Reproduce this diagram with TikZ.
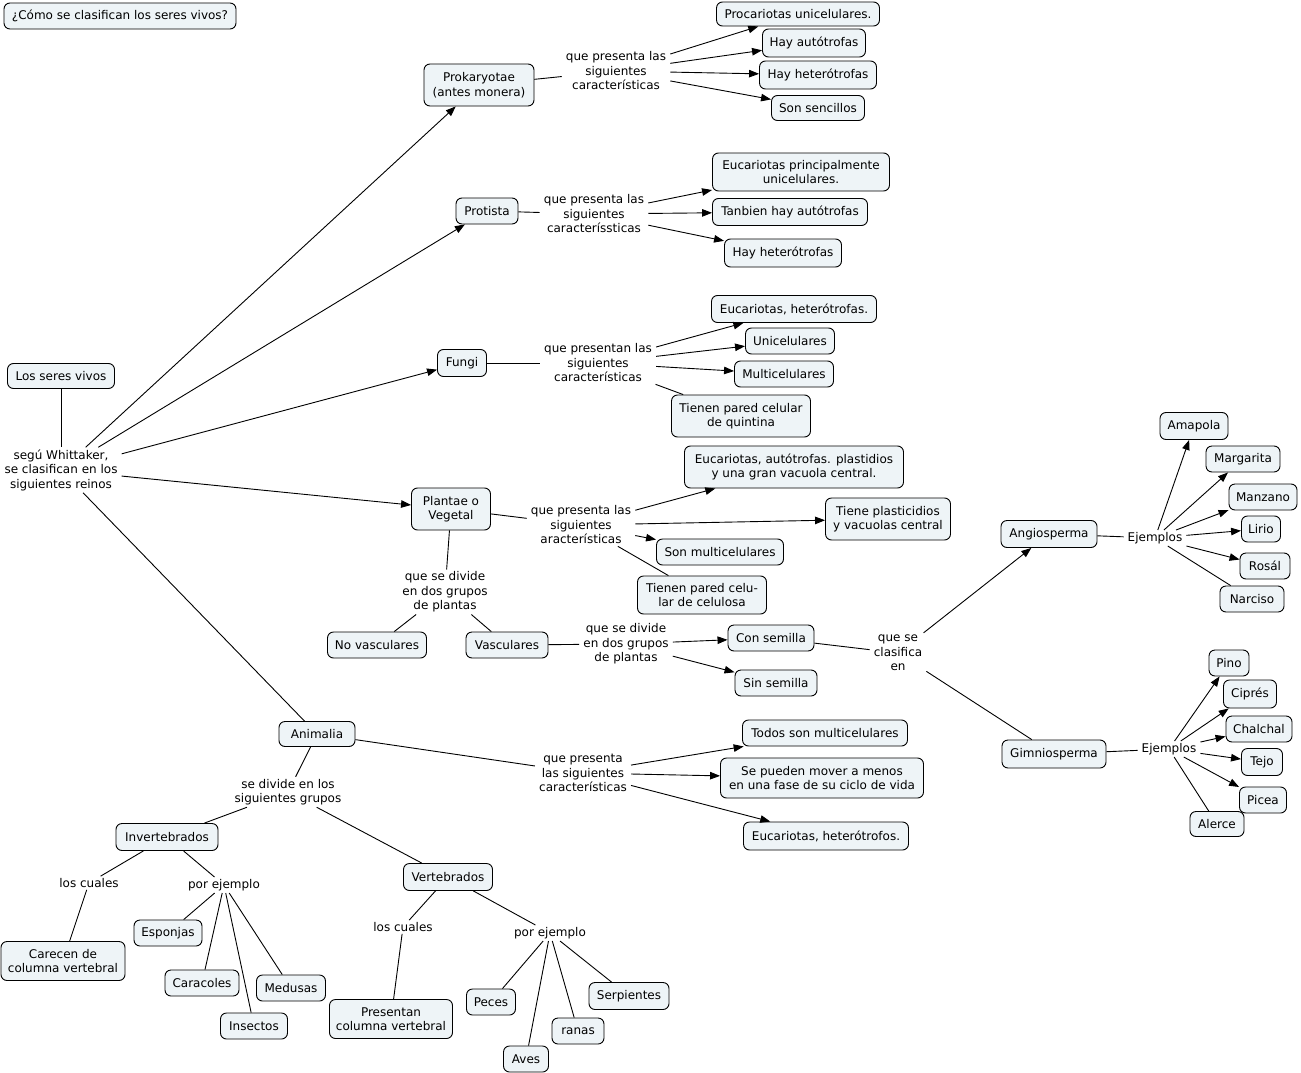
\documentclass[tikz,border=0pt]{standalone}
\usepackage{fontspec}
\setmainfont{DejaVu Sans}
\usetikzlibrary{arrows.meta}
\definecolor{cfill}{RGB}{238,244,247}
\begin{document}
\begin{tikzpicture}[x=1pt,y=-1pt,
  every node/.style={font=\fontsize{12}{14.5}\selectfont},
  cb/.style n args={2}{draw, line width=0.9pt, rounded corners=6pt, fill=cfill, align=center, inner sep=0pt, minimum width=#1pt, minimum height=#2pt},
  lk/.style={align=center, inner xsep=4pt, inner ysep=2pt},
  ln/.style={line width=0.9pt},
  ar/.style={line width=0.9pt, -{Triangle[length=10pt,width=7.5pt]}}]
\fill[white] (0,0) rectangle (1301,1073);
\useasboundingbox (0,0) rectangle (1301,1073);
% nodes
\node[cb={232}{26}] (q) at (120,16) {¿Cómo se clasifican los seres vivos?};
\node[cb={107}{25}] (lsv) at (61,376) {Los seres vivos};
\node[lk] (lw) at (61,470) {segú Whittaker,\\se clasifican en los\\siguientes reinos};
% Prokaryotae
\node[cb={110}{42}] (prok) at (479,85) {Prokaryotae\\(antes monera)};
\node[lk] (l1) at (616,71) {que presenta las\\siguientes\\características};
\node[cb={163}{24}] (pc1) at (798,14) {Procariotas unicelulares.};
\node[cb={103}{28}] (pc2) at (814,43) {Hay autótrofas};
\node[cb={117}{28}] (pc3) at (818,75) {Hay heterótrofas};
\node[cb={93}{25}] (pc4) at (818,108) {Son sencillos};
% Protista
\node[cb={62}{26}] (prot) at (487,211) {Protista};
\node[lk] (l2) at (594,214) {que presenta las\\siguientes\\caracteríssticas};
\node[cb={177}{38}] (pr1) at (801,172) {Eucariotas principalmente\\unicelulares.};
\node[cb={155}{27}] (pr2) at (790,212) {Tanbien hay autótrofas};
\node[cb={117}{28}] (pr3) at (783,253) {Hay heterótrofas};
% Fungi
\node[cb={49}{27}] (fun) at (462,363) {Fungi};
\node[lk] (l3) at (598,363) {que presentan las\\siguientes\\características};
\node[cb={165}{27}] (f1) at (794,309) {Eucariotas, heterótrofas.};
\node[cb={89}{26}] (f2) at (790,341) {Unicelulares};
\node[cb={99}{26}] (f3) at (784,374) {Multicelulares};
\node[cb={139}{42}] (f4) at (741,416) {Tienen pared celular\\de quintina};
% Plantae
\node[cb={79}{42}] (plan) at (451,509) {Plantae o\\Vegetal};
\node[lk] (l4) at (581,525) {que presenta las\\siguientes\\aracterísticas};
\node[cb={219}{42}] (p1) at (794,467) {Eucariotas, autótrofas. plastidios\\y una gran vacuola central.};
\node[cb={125}{42}] (p2) at (888,519) {Tiene plasticidios\\y vacuolas central};
\node[cb={127}{26}] (p3) at (720,552) {Son multicelulares};
\node[cb={129}{38}] (p4) at (702,595) {Tienen pared celu-\\lar de celulosa};
\node[lk] (l5) at (445,592) {que se divide\\en dos grupos\\de plantas};
\node[cb={99}{26}] (nv) at (377,645) {No vasculares};
\node[cb={82}{26}] (vas) at (507,645) {Vasculares};
\node[lk] (l6) at (626,644) {que se divide\\en dos grupos\\de plantas};
\node[cb={86}{26}] (cs) at (771,638) {Con semilla};
\node[cb={82}{26}] (ss) at (776,683) {Sin semilla};
\node[lk] (l7) at (898,653) {que se\\clasifica\\en};
% Angiosperma
\node[cb={96}{27}] (ang) at (1049,534) {Angiosperma};
\node[lk] (ej1) at (1155,538) {Ejemplos};
\node[cb={68}{27}] (a1) at (1194,426) {Amapola};
\node[cb={74}{26}] (a2) at (1243,459) {Margarita};
\node[cb={68}{26}] (a3) at (1263,497) {Manzano};
\node[cb={39}{26}] (a4) at (1261,529) {Lirio};
\node[cb={50}{26}] (a5) at (1265,566) {Rosál};
\node[cb={64}{26}] (a6) at (1252,599) {Narciso};
% Gimniosperma
\node[cb={104}{28}] (gim) at (1054,754) {Gimniosperma};
\node[lk] (ej2) at (1169,749) {Ejemplos};
\node[cb={40}{26}] (g1) at (1229,663) {Pino};
\node[cb={53}{28}] (g2) at (1250,694) {Ciprés};
\node[cb={66}{26}] (g3) at (1259,729) {Chalchal};
\node[cb={41}{27}] (g4) at (1262,762) {Tejo};
\node[cb={47}{26}] (g5) at (1263,800) {Picea};
\node[cb={54}{25}] (g6) at (1217,824) {Alerce};
% Animalia
\node[cb={76}{25}] (ani) at (317,734) {Animalia};
\node[lk] (l8) at (583,773) {que presenta\\las siguientes\\características};
\node[cb={165}{26}] (an1) at (825,733) {Todos son multicelulares};
\node[cb={203}{40}] (an2) at (822,778) {Se pueden mover a menos\\en una fase de su ciclo de vida};
\node[cb={165}{28}] (an3) at (826,836) {Eucariotas, heterótrofos.};
\node[lk] (l9) at (288,792) {se divide en los\\siguientes grupos};
\node[cb={102}{27}] (inv) at (167,837) {Invertebrados};
\node[cb={89}{27}] (ver) at (448,877) {Vertebrados};
\node[lk] (l10) at (89,883) {los cuales};
\node[lk] (l11) at (224,885) {por ejemplo};
\node[cb={124}{39}] (car) at (63,961) {Carecen de\\columna vertebral};
\node[cb={68}{26}] (esp) at (168,933) {Esponjas};
\node[cb={74}{26}] (cara) at (202,983) {Caracoles};
\node[cb={69}{26}] (med) at (291,988) {Medusas};
\node[cb={67}{26}] (ins) at (254,1026) {Insectos};
\node[lk] (l12) at (403,927) {los cuales};
\node[lk] (l13) at (550,933) {por ejemplo};
\node[cb={123}{39}] (pre) at (391,1019) {Presentan\\columna vertebral};
\node[cb={49}{26}] (pec) at (491,1002) {Peces};
\node[cb={45}{26}] (ave) at (526,1059) {Aves};
\node[cb={52}{26}] (ran) at (578,1031) {ranas};
\node[cb={80}{27}] (ser) at (629,996) {Serpientes};
% connectors
\draw[ln] (lsv) -- (lw);
\draw[ar] (lw) -- (prok);
\draw[ar] (lw) -- (prot);
\draw[ar] (lw) -- (fun);
\draw[ar] (lw) -- (plan);
\draw[ln] (lw) -- (ani);
\draw[ln] (prok) -- (l1);
\draw[ar] (l1) -- (pc1);
\draw[ar] (l1) -- (pc2);
\draw[ar] (l1) -- (pc3);
\draw[ar] (l1) -- (pc4);
\draw[ln] (prot) -- (l2);
\draw[ar] (l2) -- (pr1);
\draw[ar] (l2) -- (pr2);
\draw[ar] (l2) -- (pr3);
\draw[ln] (fun) -- (l3);
\draw[ar] (l3) -- (f1);
\draw[ar] (l3) -- (f2);
\draw[ar] (l3) -- (f3);
\draw[ln] (l3) -- (f4);
\draw[ln] (plan) -- (l4);
\draw[ar] (l4) -- (p1);
\draw[ar] (l4) -- (p2);
\draw[ar] (l4) -- (p3);
\draw[ln] (l4) -- (p4);
\draw[ln] (plan) -- (l5);
\draw[ln] (l5) -- (nv);
\draw[ln] (l5) -- (vas);
\draw[ln] (vas) -- (l6);
\draw[ar] (l6) -- (cs);
\draw[ar] (l6) -- (ss);
\draw[ln] (cs) -- (l7);
\draw[ar] (l7) -- (ang);
\draw[ln] (l7) -- (gim);
\draw[ln] (ang) -- (ej1);
\draw[ar] (ej1) -- (a1);
\draw[ar] (ej1) -- (a2);
\draw[ar] (ej1) -- (a3);
\draw[ar] (ej1) -- (a4);
\draw[ar] (ej1) -- (a5);
\draw[ln] (ej1) -- (a6);
\draw[ln] (gim) -- (ej2);
\draw[ar] (ej2) -- (g1);
\draw[ar] (ej2) -- (g2);
\draw[ar] (ej2) -- (g3);
\draw[ar] (ej2) -- (g4);
\draw[ar] (ej2) -- (g5);
\draw[ln] (ej2) -- (g6);
\draw[ln] (ani) -- (l8);
\draw[ar] (l8) -- (an1);
\draw[ar] (l8) -- (an2);
\draw[ar] (l8) -- (an3);
\draw[ln] (ani) -- (l9);
\draw[ln] (l9) -- (inv);
\draw[ln] (l9) -- (ver);
\draw[ln] (inv) -- (l10);
\draw[ln] (l10) -- (car);
\draw[ln] (inv) -- (l11);
\draw[ln] (l11) -- (esp);
\draw[ln] (l11) -- (cara);
\draw[ln] (l11) -- (ins);
\draw[ln] (l11) -- (med);
\draw[ln] (ver) -- (l12);
\draw[ln] (l12) -- (pre);
\draw[ln] (ver) -- (l13);
\draw[ln] (l13) -- (pec);
\draw[ln] (l13) -- (ave);
\draw[ln] (l13) -- (ran);
\draw[ln] (l13) -- (ser);
\end{tikzpicture}
\end{document}
